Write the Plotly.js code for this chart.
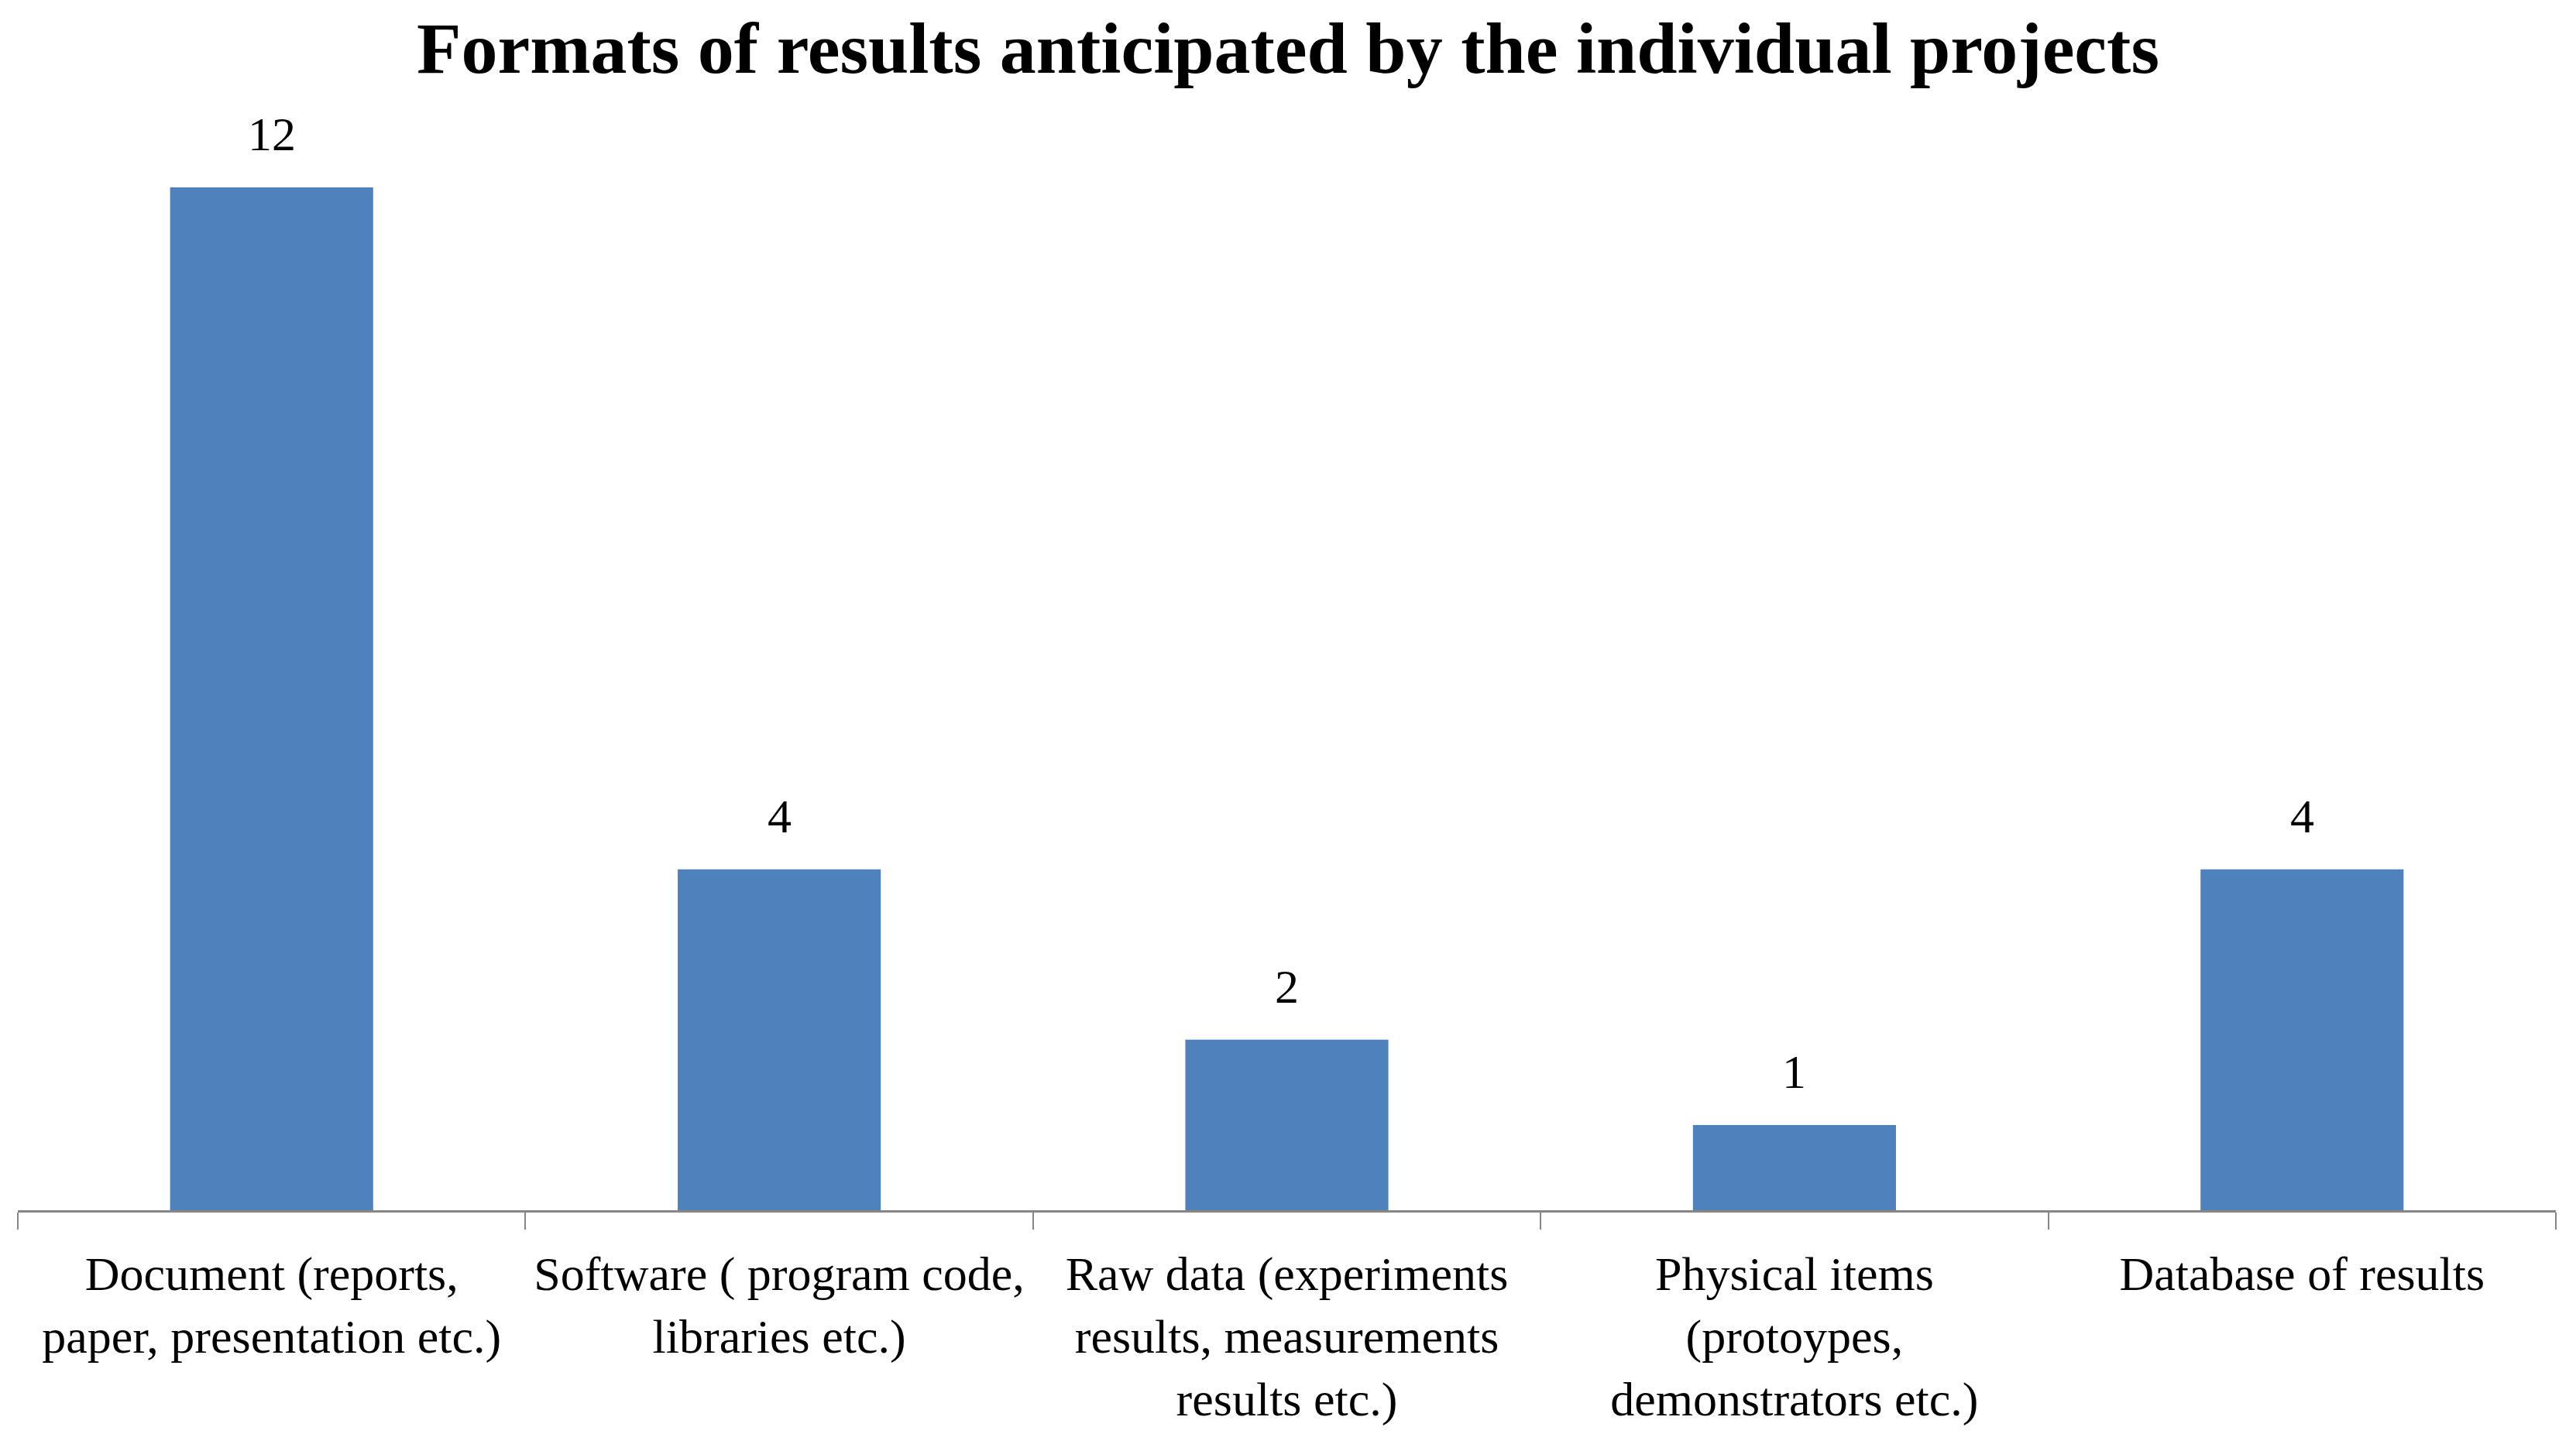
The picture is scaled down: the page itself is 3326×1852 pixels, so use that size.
<!DOCTYPE html>
<html>
<head>
<meta charset="utf-8">
<script src="https://cdn.plot.ly/plotly-3.0.1.min.js"></script>
<style>html,body{margin:0;padding:0;background:#fff;}#chart{width:3326px;height:1852px;}</style>
</head>
<body>
<div id="chart"></div>
<script>
const categories = [
  "Document (reports,<br>paper, presentation etc.)",
  "Software ( program code,<br>libraries etc.)",
  "Raw data (experiments<br>results, measurements<br>results etc.)",
  "Physical items<br>(protoypes,<br>demonstrators etc.)",
  "Database of results"
];
const counts = [12, 4, 2, 1, 4];
const chartTitle = "Formats of results anticipated by the individual projects";

const serif = "Liberation Serif, Times New Roman, serif";

const trace = {
  type: "bar",
  x: categories,
  y: counts,
  marker: {color: "#4F81BD"},
  hoverinfo: "none"
};

const annotations = categories.map((c, i) => ({
  x: c, y: counts[i], xref: "x", yref: "y",
  text: String(counts[i]), showarrow: false,
  yanchor: "bottom", yshift: 33,
  font: {family: serif, size: 62, color: "#000"}
}));

const layout = {
  width: 3326, height: 1852,
  margin: {l: 23, r: 26, t: 132, b: 289, pad: 0},
  paper_bgcolor: "#fff", plot_bgcolor: "#fff",
  bargap: 0.6,
  showlegend: false,
  title: {
    text: chartTitle,
    font: {family: serif, size: 94, color: "#000", weight: "bold"},
    x: 0.5, xanchor: "center",
    yref: "container", y: 0.985, yanchor: "top"
  },
  xaxis: {
    type: "category",
    range: [-0.5, 4.5],
    tickson: "boundaries",
    ticks: "outside", ticklen: 22, tickwidth: 2, tickcolor: "#868686",
    showline: true, linecolor: "#868686", linewidth: 3,
    showgrid: false, zeroline: false,
    tickangle: 0,
    ticklabelstandoff: 26,
    tickfont: {family: serif, size: 62, color: "#000"},
    fixedrange: true
  },
  yaxis: {
    range: [0, 13],
    visible: false,
    showgrid: false, zeroline: false,
    fixedrange: true
  },
  annotations: annotations
};

Plotly.newPlot("chart", [trace], layout, {displayModeBar: false, staticPlot: true});
</script>
</body>
</html>
